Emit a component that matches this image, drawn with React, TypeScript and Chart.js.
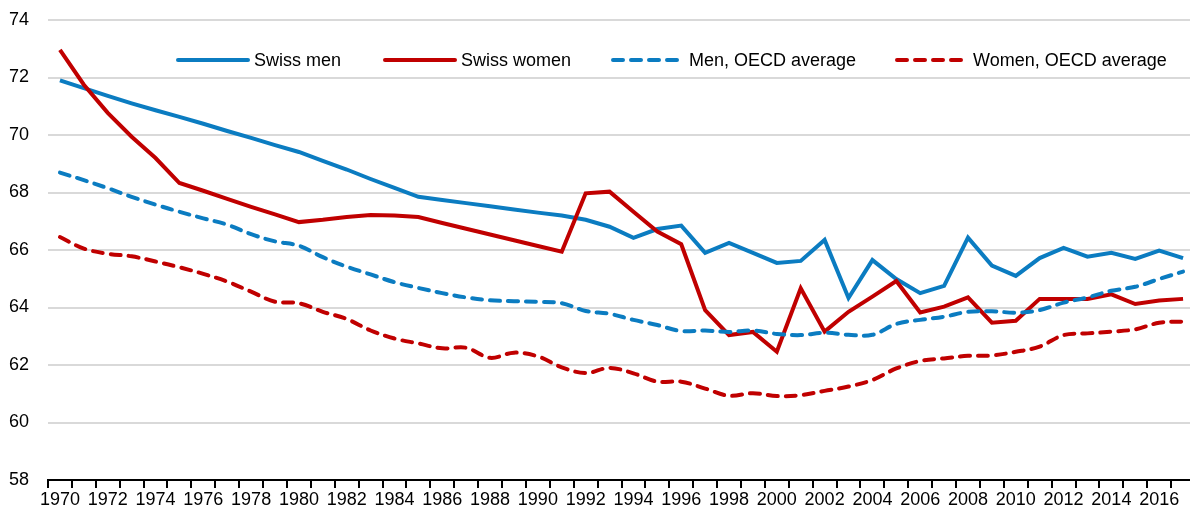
import { useEffect, useRef } from 'react';
import { Chart, registerables } from 'chart.js';

Chart.register(...registerables);

const years = [
  '1970', '1971', '1972', '1973', '1974', '1975', '1976', '1977', '1978', '1979',
  '1980', '1981', '1982', '1983', '1984', '1985', '1986', '1987', '1988', '1989',
  '1990', '1991', '1992', '1993', '1994', '1995', '1996', '1997', '1998', '1999',
  '2000', '2001', '2002', '2003', '2004', '2005', '2006', '2007', '2008', '2009',
  '2010', '2011', '2012', '2013', '2014', '2015', '2016', '2017',
];

const swissMen = [
  71.9, 71.63, 71.36, 71.1, 70.86, 70.63, 70.39, 70.14, 69.9, 69.65,
  69.41, 69.1, 68.8, 68.47, 68.16, 67.85, 67.74, 67.63, 67.52, 67.41,
  67.3, 67.2, 67.05, 66.81, 66.42, 66.73, 66.85, 65.9, 66.25, 65.9,
  65.55, 65.62, 66.35, 64.33, 65.65, 64.99, 64.5, 64.75, 66.43, 65.46,
  65.1, 65.72, 66.07, 65.77, 65.9, 65.69, 65.98, 65.72,
];

const swissWomen = [
  72.96, 71.75, 70.77, 69.94, 69.2, 68.33, 68.06, 67.78, 67.5, 67.24,
  66.97, 67.05, 67.15, 67.22, 67.2, 67.15, 66.94, 66.74, 66.54, 66.34,
  66.14, 65.94, 67.97, 68.03, 67.33, 66.64, 66.2, 63.91, 63.04, 63.15,
  62.46, 64.67, 63.16, 63.85, 64.38, 64.92, 63.83, 64.03, 64.35, 63.47,
  63.54, 64.3, 64.3, 64.3, 64.46, 64.12, 64.24, 64.3,
];

const menOecd = [
  68.69, 68.43, 68.15, 67.85, 67.58, 67.33, 67.1, 66.88, 66.55, 66.3,
  66.15, 65.75, 65.42, 65.15, 64.88, 64.68, 64.5, 64.35, 64.25, 64.22,
  64.2, 64.15, 63.88, 63.78, 63.57, 63.39, 63.18, 63.2, 63.15, 63.2,
  63.08, 63.04, 63.12, 63.05, 63.05, 63.43, 63.57, 63.68, 63.85, 63.87,
  63.82, 63.91, 64.17, 64.35, 64.58, 64.72, 64.99, 65.25,
];

const womenOecd = [
  66.45, 66.05, 65.87, 65.78, 65.6, 65.4, 65.17, 64.9, 64.55, 64.2,
  64.15, 63.85, 63.6, 63.2, 62.92, 62.75, 62.58, 62.6, 62.25, 62.43,
  62.3, 61.92, 61.72, 61.9, 61.71, 61.42, 61.42, 61.18, 60.93, 61.02,
  60.92, 60.95, 61.1, 61.25, 61.48, 61.88, 62.14, 62.23, 62.32, 62.33,
  62.46, 62.64, 63.04, 63.1, 63.16, 63.24, 63.47, 63.51,
];

const seriesLabels = ['Swiss men', 'Swiss women', 'Men, OECD average', 'Women, OECD average'];

const BLUE = '#0B7CC1';
const RED = '#C00000';
const FONT = "'Liberation Sans', Arial, sans-serif";
const FONT_SIZE = 18;
const LEGEND_X = [178, 385, 613, 897];
const LEGEND_Y = 60;

const legendPlugin = {
  id: 'inlineLegend',
  afterDraw(chart: any) {
    const ctx = chart.ctx;
    ctx.save();
    ctx.font = `${FONT_SIZE}px ${FONT}`;
    ctx.textBaseline = 'middle';
    ctx.textAlign = 'left';
    chart.data.datasets.forEach((ds: any, i: number) => {
      const x = LEGEND_X[i];
      ctx.strokeStyle = ds.borderColor;
      ctx.lineWidth = 4;
      ctx.lineCap = 'round';
      ctx.setLineDash(ds.borderDash || []);
      ctx.beginPath();
      ctx.moveTo(x, LEGEND_Y);
      ctx.lineTo(x + 70, LEGEND_Y);
      ctx.stroke();
      ctx.setLineDash([]);
      ctx.fillStyle = '#000';
      ctx.fillText(ds.label, x + 76, LEGEND_Y + 1);
    });
    ctx.restore();
  },
};

export default function App() {
  const canvasRef = useRef<HTMLCanvasElement | null>(null);

  useEffect(() => {
    if (!canvasRef.current) return;
    const chart = new Chart(canvasRef.current, {
      type: 'line',
      data: {
        labels: years,
        datasets: [
          {
            label: seriesLabels[0],
            data: swissMen,
            borderColor: BLUE,
            backgroundColor: BLUE,
            borderWidth: 4,
            pointRadius: 0,
            tension: 0,
            order: 4,
          },
          {
            label: seriesLabels[1],
            data: swissWomen,
            borderColor: RED,
            backgroundColor: RED,
            borderWidth: 4,
            pointRadius: 0,
            tension: 0,
            order: 3,
          },
          {
            label: seriesLabels[2],
            data: menOecd,
            borderColor: BLUE,
            backgroundColor: BLUE,
            borderWidth: 4,
            borderDash: [10, 8],
            borderCapStyle: 'round',
            pointRadius: 0,
            tension: 0.35,
            order: 2,
          },
          {
            label: seriesLabels[3],
            data: womenOecd,
            borderColor: RED,
            backgroundColor: RED,
            borderWidth: 4,
            borderDash: [10, 8],
            borderCapStyle: 'round',
            pointRadius: 0,
            tension: 0.35,
            order: 1,
          },
        ],
      },
      options: {
        responsive: false,
        animation: false,
        devicePixelRatio: 1,
        layout: { padding: { top: 20, right: 1, left: 0, bottom: 0 } },
        plugins: {
          legend: { display: false },
          tooltip: { enabled: false },
        },
        scales: {
          x: {
            type: 'category',
            offset: true,
            grid: {
              offset: true,
              drawOnChartArea: false,
              drawTicks: true,
              tickLength: 8,
              color: '#000',
              lineWidth: 2,
            },
            border: { display: true, color: '#000', width: 2 },
            ticks: {
              autoSkip: false,
              maxRotation: 0,
              minRotation: 0,
              padding: 1,
              color: '#000',
              font: { family: FONT, size: FONT_SIZE },
              callback: (_v: any, i: number) => (i % 2 === 0 ? years[i] : ''),
            },
            afterFit: (scale: any) => {
              scale.height = 29;
              scale.paddingLeft = 0;
              scale.paddingRight = 0;
            },
          },
          y: {
            min: 58,
            max: 74,
            border: { display: false },
            grid: {
              drawTicks: false,
              color: (c: any) => (c.tick && c.tick.value === 58 ? 'rgba(0,0,0,0)' : '#D9D9D9'),
              lineWidth: 2,
            },
            ticks: {
              stepSize: 2,
              padding: 19,
              color: '#000',
              font: { family: FONT, size: FONT_SIZE },
            },
            afterFit: (scale: any) => {
              scale.width = 48;
              scale.paddingTop = 0;
              scale.paddingBottom = 0;
            },
          },
        },
      },
      plugins: [legendPlugin],
    });
    return () => chart.destroy();
  }, []);

  return (
    <div
      style={{
        position: 'fixed',
        left: 0,
        top: 0,
        width: 1190,
        height: 509,
        overflow: 'hidden',
        background: '#fff',
      }}
    >
      <canvas ref={canvasRef} width={1196} height={509} style={{ display: 'block' }} />
    </div>
  );
}
